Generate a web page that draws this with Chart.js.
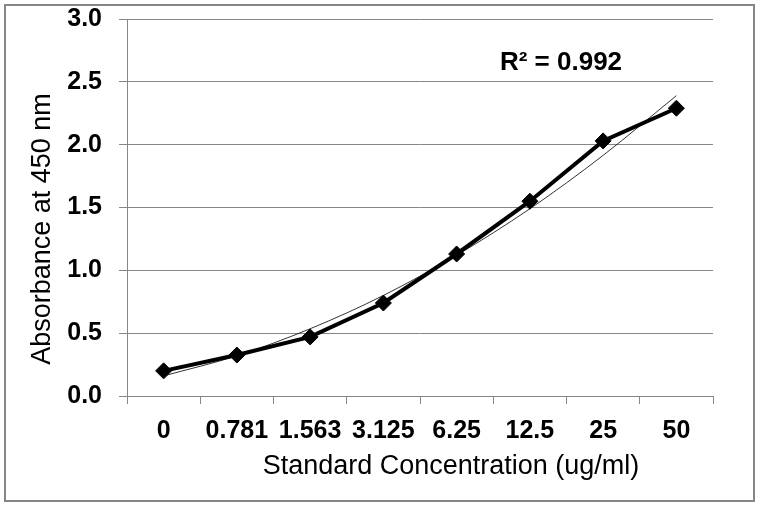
<!DOCTYPE html>
<html>
<head>
<meta charset="utf-8">
<script src="https://cdn.jsdelivr.net/npm/chart.js@4"></script>
<style>
  html, body { margin: 0; padding: 0; background: #fff; }
  #wrap { width: 758px; height: 505px; position: relative; }
</style>
</head>
<body>
<div id="wrap"><canvas id="std-curve"></canvas></div>
<script>
const concentrations = ["0", "0.781", "1.563", "3.125", "6.25", "12.5", "25", "50"];
const absorbance = [0.20, 0.326, 0.47, 0.74, 1.13, 1.55, 2.03, 2.29];
// thin polynomial trendline
const trendline = [0.16, 0.32, 0.535, 0.80, 1.12, 1.49, 1.915, 2.39];
const yTicks = [0, 0.5, 1.0, 1.5, 2.0, 2.5, 3.0];
const rSquaredLabel = "R² = 0.992";
const xTitle = "Standard Concentration (ug/ml)";
const yTitle = "Absorbance at 450 nm";

const gray = "#868686";

// frame, axis titles and the R² label
const extrasPlugin = {
  id: "extras",
  beforeDraw(chart) {
    const c = chart.ctx;
    c.save();
    c.fillStyle = "#fff";
    c.fillRect(0, 0, chart.width, chart.height);
    c.strokeStyle = gray;
    c.lineWidth = 2;
    c.strokeRect(5, 5, 749, 496);
    c.restore();
  },
  afterDraw(chart) {
    const c = chart.ctx;
    c.save();
    c.fillStyle = "#000";
    c.textAlign = "center";
    c.textBaseline = "middle";
    c.font = "bold 26px 'Liberation Sans', Arial, sans-serif";
    c.fillText(rSquaredLabel, 561, 63);

    c.font = "27px 'Liberation Sans', Arial, sans-serif";
    c.fillText(xTitle, 451, 467);

    c.translate(43, 229);
    c.rotate(-Math.PI / 2);
    c.fillText(yTitle, 0, 0);
    c.restore();
  }
};

new Chart(document.getElementById("std-curve"), {
  type: "line",
  data: {
    labels: concentrations,
    datasets: [
      {
        label: "Absorbance",
        data: absorbance,
        borderColor: "#000",
        backgroundColor: "#000",
        borderWidth: 4,
        pointStyle: "rectRot",
        pointRadius: 8,
        pointBorderWidth: 1,
        tension: 0,
        order: 1
      },
      {
        label: "Trend",
        data: trendline,
        borderColor: "#000",
        borderWidth: 0.8,
        pointRadius: 0,
        cubicInterpolationMode: "monotone",
        order: 2
      }
    ]
  },
  options: {
    responsive: true,
    maintainAspectRatio: false,
    animation: false,
    layout: { padding: { top: 19, right: 45, bottom: 0, left: 0 } },
    plugins: {
      legend: { display: false },
      tooltip: { enabled: false }
    },
    scales: {
      x: {
        offset: true,
        grid: {
          offset: true,
          drawOnChartArea: false,
          drawTicks: true,
          tickLength: 8,
          color: gray
        },
        border: { display: true, color: gray },
        ticks: {
          color: "#000",
          padding: 12,
          maxRotation: 0,
          autoSkip: false,
          font: { family: "'Liberation Sans', Arial, sans-serif", size: 25, weight: "bold" }
        },
        afterFit(scale) {
          scale.height = 109;
          scale.paddingLeft = 0;
          scale.paddingRight = 0;
        }
      },
      y: {
        min: 0,
        max: 3,
        afterBuildTicks(scale) { scale.ticks = yTicks.map(v => ({ value: v })); },
        grid: { color: gray, tickLength: 8 },
        border: { display: true, color: gray },
        ticks: {
          color: "#000",
          padding: 17,
          callback: v => v.toFixed(1),
          font: { family: "'Liberation Sans', Arial, sans-serif", size: 25, weight: "bold" }
        },
        afterFit(scale) {
          scale.width = 127;
          scale.paddingTop = 0;
          scale.paddingBottom = 0;
        }
      }
    }
  },
  plugins: [extrasPlugin]
});
</script>
</body>
</html>
